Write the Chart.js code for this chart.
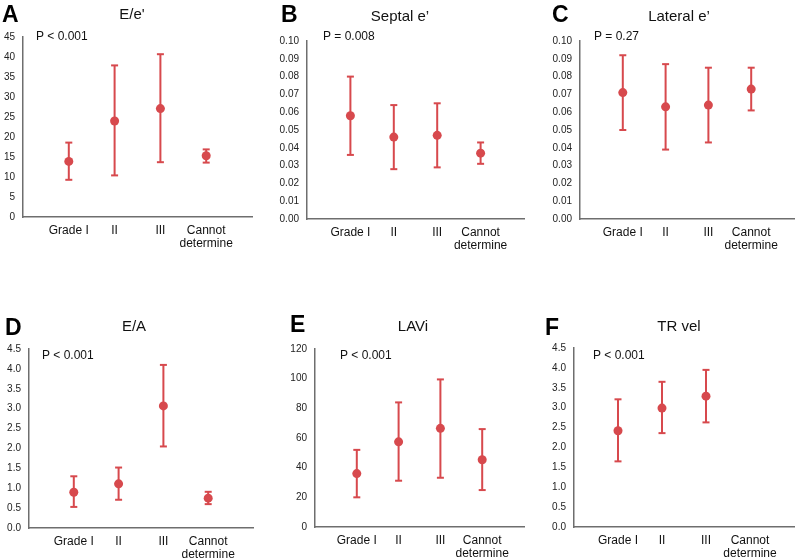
<!DOCTYPE html>
<html>
<head>
<meta charset="utf-8">
<script src="https://cdn.jsdelivr.net/npm/chart.js@4/dist/chart.umd.min.js"></script>
<style>
  body { margin: 0; background: #fff; }
  #wrap { position: relative; width: 800px; height: 559px; overflow: hidden; }
  #wrap canvas { position: absolute; }
</style>
</head>
<body>
<div id="wrap"></div>
<script>
// categories shared by all panels
const categories = ['Grade I', 'II', 'III', ['Cannot', 'determine']];

// A - E/e'
const eeMean = [13.9, 24.0, 27.1, 15.3];
const eeLow = [9.3, 10.4, 13.7, 13.6];
const eeHigh = [18.6, 37.9, 40.7, 16.9];
const eeTicks = [0, 5, 10, 15, 20, 25, 30, 35, 40, 45];

// B - Septal e'
const septalMean = [0.058, 0.046, 0.047, 0.037];
const septalLow = [0.036, 0.028, 0.029, 0.031];
const septalHigh = [0.080, 0.064, 0.065, 0.043];
const septalTicks = [0, 0.01, 0.02, 0.03, 0.04, 0.05, 0.06, 0.07, 0.08, 0.09, 0.10];

// C - Lateral e'
const lateralMean = [0.071, 0.063, 0.064, 0.073];
const lateralLow = [0.050, 0.039, 0.043, 0.061];
const lateralHigh = [0.092, 0.087, 0.085, 0.085];
const lateralTicks = [0, 0.01, 0.02, 0.03, 0.04, 0.05, 0.06, 0.07, 0.08, 0.09, 0.10];

// D - E/A
const eaMean = [0.90, 1.11, 3.07, 0.75];
const eaLow = [0.53, 0.71, 2.05, 0.60];
const eaHigh = [1.30, 1.52, 4.10, 0.91];
const eaTicks = [0, 0.5, 1.0, 1.5, 2.0, 2.5, 3.0, 3.5, 4.0, 4.5];

// E - LAVi
const laviMean = [36, 57.4, 66.5, 45.3];
const laviLow = [20, 31.2, 33.2, 24.9];
const laviHigh = [52, 84, 99.5, 66];
const laviTicks = [0, 20, 40, 60, 80, 100, 120];

// F - TR vel (no value for "Cannot determine")
const trMean = [2.42, 2.99, 3.29, null];
const trLow = [1.65, 2.36, 2.63, null];
const trHigh = [3.21, 3.65, 3.95, null];
const trTicks = [0, 0.5, 1.0, 1.5, 2.0, 2.5, 3.0, 3.5, 4.0, 4.5];

const RED = '#d7494d';
const FONT = '"Liberation Sans", Arial, sans-serif';

// panel placement: canvas box [x, y, w, h] and plot area [left, top, right, bottom] inside it
const panels = [
    { letter: 'A', title: "E/e'", p: 'P < 0.001', box: [0, 0, 265, 270], area: [23, 37, 252, 217],
      letterPos: [2, 22], titlePos: [132, 15], pPos: [36, 37],
      mean: eeMean, low: eeLow, high: eeHigh, ticks: eeTicks, dec: 0 },
    { letter: 'B', title: 'Septal e\u2019', p: 'P = 0.008', box: [265, 0, 265, 270], area: [42, 41, 262, 219],
      letterPos: [16, 22], titlePos: [135, 17], pPos: [58, 37],
      mean: septalMean, low: septalLow, high: septalHigh, ticks: septalTicks, dec: 2 },
    { letter: 'C', title: 'Lateral e\u2019', p: 'P = 0.27', box: [530, 0, 270, 270], area: [50, 41, 268, 219],
      letterPos: [22, 22], titlePos: [149, 17], pPos: [64, 37],
      mean: lateralMean, low: lateralLow, high: lateralHigh, ticks: lateralTicks, dec: 2 },
    { letter: 'D', title: 'E/A', p: 'P < 0.001', box: [0, 280, 265, 279], area: [29, 69, 253, 248],
      letterPos: [5, 55], titlePos: [134, 47], pPos: [42, 76],
      mean: eaMean, low: eaLow, high: eaHigh, ticks: eaTicks, dec: 1 },
    { letter: 'E', title: 'LAVi', p: 'P < 0.001', box: [265, 280, 265, 279], area: [50, 69, 262, 247],
      letterPos: [25, 52], titlePos: [148, 47], pPos: [75, 76],
      mean: laviMean, low: laviLow, high: laviHigh, ticks: laviTicks, dec: 0 },
    { letter: 'F', title: 'TR vel', p: 'P < 0.001', box: [530, 280, 270, 279], area: [44, 68, 268, 247],
      letterPos: [15, 55], titlePos: [149, 47], pPos: [63, 76],
      mean: trMean, low: trLow, high: trHigh, ticks: trTicks, dec: 1 }
];

document.addEventListener('DOMContentLoaded', function() {
    panels.forEach(renderPanel);
});

function meanPoints(mean) {
    const pts = [];
    mean.forEach((m, i) => { if (m != null) pts.push({ x: i + 1, y: m }); });
    return pts;
}

// lo/hi pairs separated by a gap point, so each bar is its own segment
function errorPoints(low, high) {
    const pts = [];
    low.forEach((lo, i) => {
        if (lo == null) return;
        pts.push({ x: i + 1, y: lo }, { x: i + 1, y: high[i] }, { x: i + 1, y: null });
    });
    return pts;
}

function renderPanel(panel) {
    const [bx, by, bw, bh] = panel.box;
    const [al, at, ar, ab] = panel.area;

    const canvas = document.createElement('canvas');
    canvas.width = bw;
    canvas.height = bh;
    canvas.style.left = bx + 'px';
    canvas.style.top = by + 'px';
    canvas.style.width = bw + 'px';
    canvas.style.height = bh + 'px';
    document.getElementById('wrap').appendChild(canvas);

    // letter, title and p-value text
    const panelText = {
        id: 'panelText',
        afterDraw(chart) {
            const ctx = chart.ctx;
            ctx.save();
            ctx.fillStyle = '#000';
            ctx.textBaseline = 'alphabetic';
            ctx.textAlign = 'left';
            ctx.font = 'bold 23px ' + FONT;
            ctx.fillText(panel.letter, panel.letterPos[0], panel.letterPos[1]);
            ctx.textBaseline = 'middle';
            ctx.textAlign = 'center';
            ctx.font = '15px ' + FONT;
            ctx.fillStyle = '#111';
            ctx.fillText(panel.title, panel.titlePos[0], panel.titlePos[1]);
            ctx.textAlign = 'left';
            ctx.font = '12px ' + FONT;
            ctx.fillText(panel.p, panel.pPos[0], panel.pPos[1]);
            ctx.restore();
        }
    };

    const yMax = panel.ticks[panel.ticks.length - 1];

    new Chart(canvas.getContext('2d'), {
        type: 'scatter',
        data: {
            datasets: [{
                    data: meanPoints(panel.mean),
                    backgroundColor: RED,
                    borderColor: RED,
                    pointRadius: 4.5,
                    pointBorderWidth: 0
                },
                {
                    data: errorPoints(panel.low, panel.high),
                    showLine: true,
                    spanGaps: false,
                    borderColor: RED,
                    borderWidth: 2,
                    pointStyle: 'line',
                    pointRadius: 3.5,
                    pointBorderWidth: 2,
                    pointBorderColor: RED
                }
            ]
        },
        options: {
            responsive: false,
            animation: false,
            layout: {
                padding: { top: at, left: 0, right: bw - ar, bottom: 0 }
            },
            plugins: {
                legend: { display: false },
                tooltip: { enabled: false }
            },
            scales: {
                x: {
                    type: 'linear',
                    min: 0,
                    max: 5,
                    afterBuildTicks: function(scale) {
                        scale.ticks = categories.map((c, i) => ({ value: i + 1 }));
                    },
                    afterFit: function(scale) {
                        scale.height = bh - ab;
                    },
                    grid: { display: false, drawTicks: false },
                    border: { display: true, color: '#6e6e6e', width: 1.5 },
                    ticks: {
                        padding: 7,
                        autoSkip: false,
                        maxRotation: 0,
                        color: '#111',
                        font: { family: FONT, size: 12, lineHeight: 1.1 },
                        callback: function(value) {
                            return categories[value - 1];
                        }
                    }
                },
                y: {
                    min: 0,
                    max: yMax,
                    afterBuildTicks: function(scale) {
                        scale.ticks = panel.ticks.map(v => ({ value: v }));
                    },
                    afterFit: function(scale) {
                        scale.width = al;
                    },
                    grid: { display: false, drawTicks: false },
                    border: { display: true, color: '#6e6e6e', width: 1.5 },
                    ticks: {
                        padding: 8,
                        color: '#222',
                        font: { family: FONT, size: 10 },
                        callback: function(value) {
                            return Number(value).toFixed(panel.dec);
                        }
                    }
                }
            }
        },
        plugins: [panelText]
    });
}
</script>
</body>
</html>
